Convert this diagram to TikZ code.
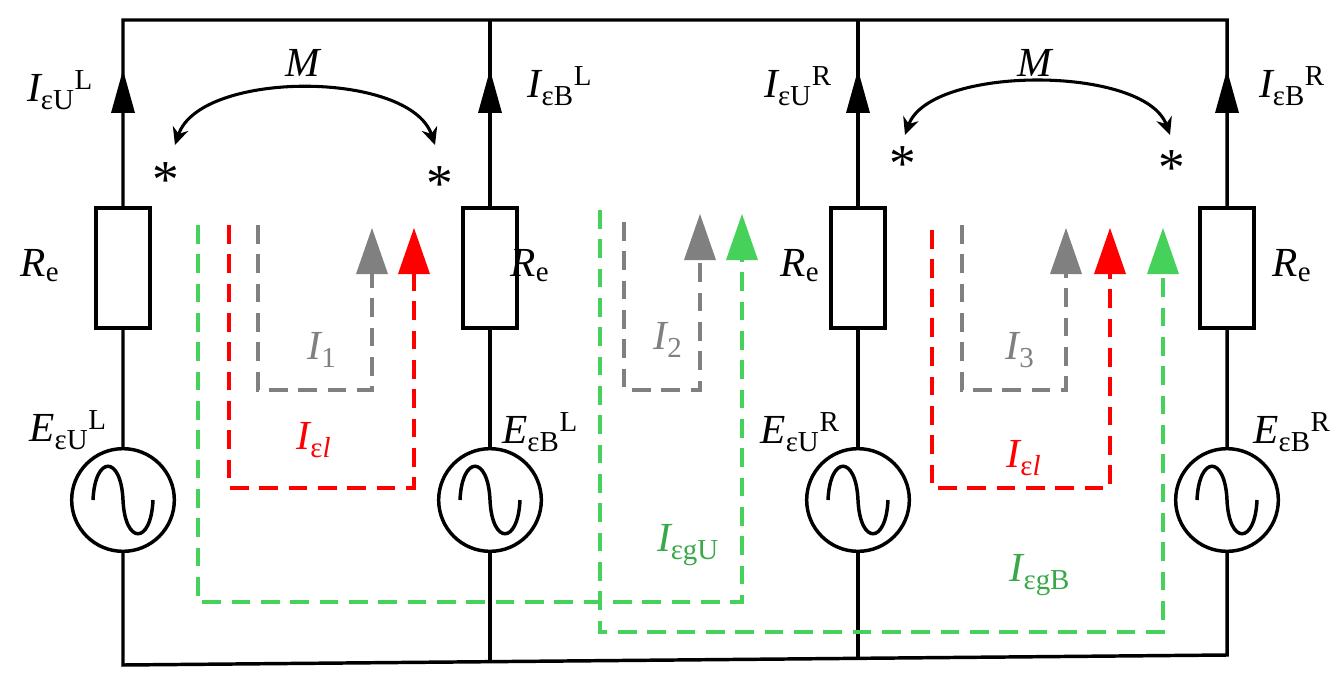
\documentclass[tikz,border=0pt]{standalone}
\usepackage{fontspec}
\setmainfont{Liberation Serif}
\usepackage{amsmath}
\usetikzlibrary{arrows.meta}
\newcommand\lbl[3]{$\text{\itshape #1}_{\text{#2}}{}^{\text{#3}}$}
\begin{document}
\begin{tikzpicture}[x=0.75pt,y=-0.75pt,line width=2.6pt,
  wire/.style={line width=2.6pt},
  res/.style={draw,line width=2.6pt,minimum width=40.5pt,minimum height=90pt,inner sep=0pt,fill=white},
  src/.style={draw,circle,line width=2.6pt,minimum size=77pt,inner sep=0pt,fill=white},
  tx/.style={font=\fontsize{31}{36}\selectfont},
  dsh/.style={line width=2.5pt,dash pattern=on 14pt off 8pt},
  mk/.style={line width=2.3pt,{Stealth[length=13pt,width=12pt]}-{Stealth[length=13pt,width=12pt]}},
]
\definecolor{mygreen}{RGB}{70,210,90}
\useasboundingbox (0,0) rectangle (1338,681);
% wires
\draw[wire] (123,665) -- (123,20) -- (1227,20) -- (1227,655) -- cycle;
\foreach \x/\yb in {490/661,858/658}{\draw[wire] (\x,20) -- (\x,\yb);}
% components
\foreach \x/\n in {123/a,490/b,858/c,1227/d}{
  \node[res] (r\n) at (\x,268) {};
  \node[src] (s\n) at (\x,500) {};
  \draw[line width=2.6pt] (\x-30,500) .. controls (\x-28,455) and (\x-2,455) .. (\x,500) .. controls (\x+2,545) and (\x+28,545) .. (\x+30,500);
  \fill (\x,70) -- (\x+12,113) -- (\x-12,113) -- cycle;
}
% labels
\node[tx] (la) at (60,90) {\lbl{I}{εU}{L}};
\node[tx] (lb) at (560,86) {\lbl{I}{εB}{L}};
\node[tx] (lc) at (798,86) {\lbl{I}{εU}{R}};
\node[tx] (ld) at (1292,86) {\lbl{I}{εB}{R}};
\node[tx] at (40,266) {$\text{\itshape R}_{\text{e}}$};
\node[tx] at (530,266) {$\text{\itshape R}_{\text{e}}$};
\node[tx] at (800,266) {$\text{\itshape R}_{\text{e}}$};
\node[tx] at (1292,266) {$\text{\itshape R}_{\text{e}}$};
\node[tx] at (68,430) {\lbl{E}{εU}{L}};
\node[tx] at (540,432) {\lbl{E}{εB}{L}};
\node[tx] at (800,432) {\lbl{E}{εU}{R}};
\node[tx] at (1292,432) {\lbl{E}{εB}{R}};
% mutual inductance
\node[tx] (m1) at (303,63) {\itshape M};
\node[tx] (m2) at (1035,63) {\itshape M};
\draw[mk] (175,145) .. controls (200,70) and (410,70) .. (435,145);
\draw[mk] (905,135) .. controls (930,65) and (1145,65) .. (1170,135);
\foreach \p in {(166,180),(440,184),(903,164),(1172,168)}{\node[font=\fontsize{40}{40}\selectfont] at \p {*};}
% loops
\draw[gray,dsh] (258,225) -- (258,390) -- (372,390) -- (372,272);
\fill[gray] (372,228) -- (388,274) -- (356,274) -- cycle;
\draw[red,dsh] (229,225) -- (229,488) -- (414,488) -- (414,272);
\fill[red] (414,228) -- (430,274) -- (398,274) -- cycle;
\draw[mygreen,dsh] (198,225) -- (198,602) -- (742,602) -- (742,260);
\fill[mygreen] (742,214) -- (758,260) -- (726,260) -- cycle;
\draw[gray,dsh] (624,222) -- (624,390) -- (700,390) -- (700,260);
\fill[gray] (700,214) -- (716,260) -- (684,260) -- cycle;
\draw[mygreen,dsh] (600,210) -- (600,632) -- (1163,632) -- (1163,272);
\fill[mygreen] (1163,228) -- (1179,274) -- (1147,274) -- cycle;
\draw[red,dsh] (932,230) -- (932,488) -- (1110,488) -- (1110,272);
\fill[red] (1110,228) -- (1126,274) -- (1094,274) -- cycle;
\draw[gray,dsh] (962,225) -- (962,390) -- (1066,390) -- (1066,272);
\fill[gray] (1066,228) -- (1082,274) -- (1050,274) -- cycle;
% current labels
\node[tx,text=gray] at (322,350) {$\text{\itshape I}_{\text{1}}$};
\node[tx,text=gray] at (668,340) {$\text{\itshape I}_{\text{2}}$};
\node[tx,text=gray] at (1020,350) {$\text{\itshape I}_{\text{3}}$};
\node[tx,text=red] at (314,440) {$\text{\itshape I}_{\text{ε\itshape l}}$};
\node[tx,text=red] at (1024,458) {$\text{\itshape I}_{\text{ε\itshape l}}$};
\node[tx,text=mygreen!80!black] at (688,545) {$\text{\itshape I}_{\text{εgU}}$};
\node[tx,text=mygreen!80!black] at (1040,575) {$\text{\itshape I}_{\text{εgB}}$};
\end{tikzpicture}
\end{document}
